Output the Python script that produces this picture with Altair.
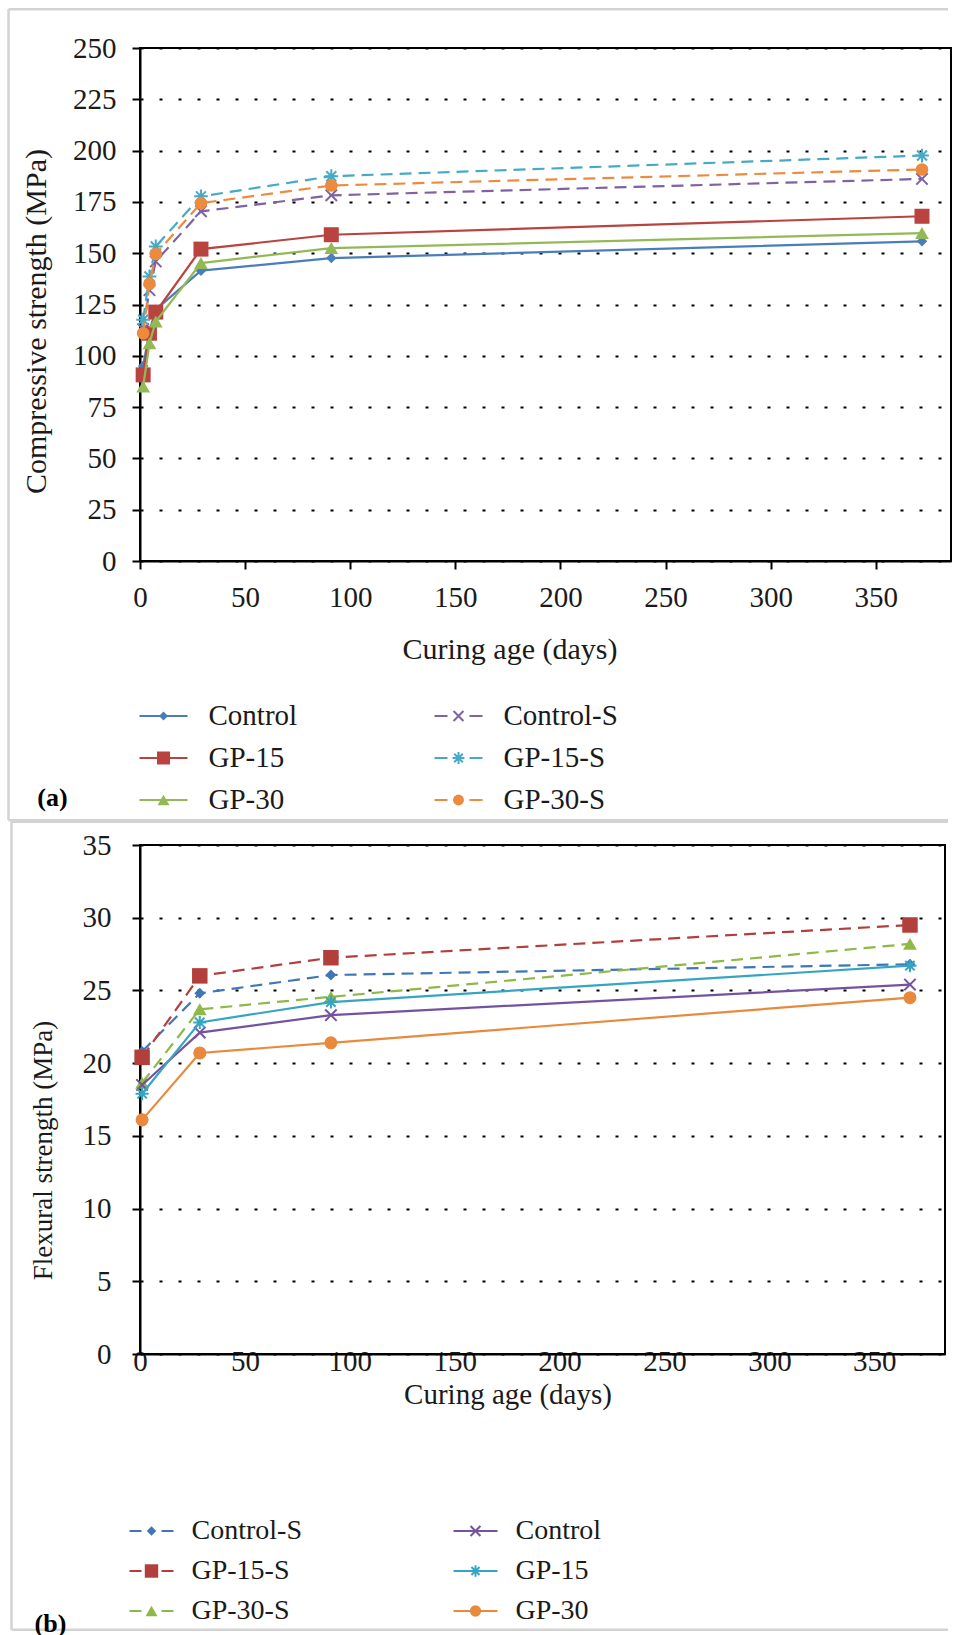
import altair as alt
import pandas as pd

FONT = "Liberation Serif"
TXT = "#1a1a1a"
X_PATH = "M-1,-1L1,1M-1,1L1,-1"
AST_PATH = "M-1,0L1,0M0,-1L0,1M-0.72,-0.72L0.72,0.72M-0.72,0.72L0.72,-0.72"

# ---------------- Panel (a): compressive strength ----------------
a_days = [1.5, 4.5, 7.5, 29, 91, 372]
a_names = ["Control", "GP-15", "GP-30", "Control-S", "GP-15-S", "GP-30-S"]
a_control = [95, 112, 122.5, 141.5, 147.6, 155.8]
a_gp15 = [90.7, 111, 121.3, 152, 159, 168]
a_gp30 = [85, 106.1, 116.7, 145.2, 152.5, 159.8]
a_control_s = [113, 132, 146, 170.4, 178.2, 186.2]
a_gp15_s = [117.6, 138.7, 153.3, 177.7, 187.5, 197.6]
a_gp30_s = [111, 135.1, 149.6, 174.4, 183, 190.8]
a_values = [a_control, a_gp15, a_gp30, a_control_s, a_gp15_s, a_gp30_s]
a_colors = ["#4A7EBB", "#B8433F", "#93B957", "#7E62A3", "#46AAC6", "#EC8B3E"]
a_shapes = ["diamond", "square", "triangle-up", X_PATH, AST_PATH, "circle"]
a_filled = [True, True, True, False, False, True]
a_sizes = [110, 225, 190, 130, 190, 160]
a_dashed = [False, False, False, True, True, True]
a_yticks = list(range(0, 251, 25))
a_xticks = list(range(0, 351, 50))

# ---------------- Panel (b): flexural strength ----------------
b_days = [1, 28.5, 91, 367]
b_names = ["Control-S", "GP-15-S", "GP-30-S", "Control", "GP-15", "GP-30"]
b_control_s = [20.8, 24.8, 26.06, 26.8]
b_gp15_s = [20.4, 26.0, 27.25, 29.5]
b_gp30_s = [18.65, 23.7, 24.56, 28.2]
b_control = [18.5, 22.1, 23.3, 25.4]
b_gp15 = [17.9, 22.8, 24.2, 26.7]
b_gp30 = [16.1, 20.7, 21.4, 24.5]
b_values = [b_control_s, b_gp15_s, b_gp30_s, b_control, b_gp15, b_gp30]
b_colors = ["#3F76B6", "#B23F3C", "#8FB847", "#7452A0", "#35A5C2", "#E8893C"]
b_shapes = ["diamond", "square", "triangle-up", X_PATH, AST_PATH, "circle"]
b_filled = [True, True, True, False, False, True]
b_sizes = [120, 240, 190, 130, 170, 170]
b_dashed = [True, True, True, False, False, False]
b_yticks = list(range(0, 36, 5))
b_xticks = list(range(0, 351, 50))


def one_row(**kw):
    return alt.Chart(pd.DataFrame({k: [v] for k, v in kw.items()}))


def panel(days, names, values, colors, shapes, filled, sizes, dashed,
          width, height, xmax, ymax, yticks, xticks, ytitle, geo):
    layers = []
    # outer light frame (left, top, bottom edges; right edge lies off-page)
    fl, fr, ft, fb = geo["frame"]
    fkw = dict(color="#d3d3d3", strokeWidth=2.5)
    layers.append(one_row(k=0).mark_rule(**fkw).encode(
        x=alt.value(fl), x2=alt.value(fr), y=alt.value(ft)))
    layers.append(one_row(k=0).mark_rule(**fkw).encode(
        x=alt.value(fl), x2=alt.value(fr), y=alt.value(fb)))
    layers.append(one_row(k=0).mark_rule(**fkw).encode(
        x=alt.value(fl), y=alt.value(ft), y2=alt.value(fb)))

    xaxis_kw = dict(values=xticks, grid=False, title="Curing age (days)",
                    labelFont=FONT, labelFontSize=geo["fs"], labelColor=TXT,
                    labelPadding=geo["xlabpad"], labelFlush=False,
                    titleFont=FONT, titleFontSize=geo["tfs"], titleColor=TXT,
                    titleFontWeight="normal", titleX=geo["xtitle"][0],
                    titleY=geo["xtitle"][1], titleAlign="center",
                    titleBaseline="alphabetic",
                    domainColor="black", domainWidth=2)
    if geo["xticks"]:
        xaxis_kw.update(ticks=True, tickColor="black", tickWidth=2, tickSize=8)
    else:
        xaxis_kw.update(ticks=False, tickSize=0, labelBaseline="middle")
    x = alt.X("day:Q",
              scale=alt.Scale(domain=[0, xmax], nice=False, zero=False),
              axis=alt.Axis(**xaxis_kw))
    y = alt.Y("v:Q",
              scale=alt.Scale(domain=[0, ymax], nice=False, zero=True),
              axis=alt.Axis(values=yticks, grid=True, gridColor="black", gridWidth=2,
                            gridDash=[3, 16], title=ytitle,
                            labelFont=FONT, labelFontSize=geo["fs"], labelColor=TXT,
                            labelPadding=geo["ylabpad"], labelFlush=False,
                            titleFont=FONT, titleFontSize=geo["ytfs"], titleColor=TXT,
                            titleFontWeight="normal", titleAngle=270,
                            titleX=geo["ytitle"][0], titleY=geo["ytitle"][1],
                            titleAlign="center", titleBaseline="middle",
                            domainColor="black", domainWidth=2, tickColor="black",
                            tickWidth=2, tickSize=8))
    for i, name in enumerate(names):
        df = pd.DataFrame({"day": days, "v": values[i], "series": name})
        line_kw = dict(color=colors[i], strokeWidth=2.2)
        if dashed[i]:
            line_kw["strokeDash"] = [12, 7]
        layers.append(alt.Chart(df).mark_line(**line_kw).encode(x=x, y=y))
        layers.append(alt.Chart(df).mark_point(
            shape=shapes[i], filled=filled[i], size=sizes[i], color=colors[i],
            opacity=1, strokeWidth=2).encode(x=x, y=y))

    # legend (two columns x three rows)
    lg = geo["legend"]
    for i, name in enumerate(names):
        col, row = i // 3, i % 3
        x0 = lg["x0"][col]
        ly = lg["rows"][row]
        rule_kw = dict(color=colors[i], strokeWidth=2)
        if dashed[i]:
            rule_kw["strokeDash"] = lg["dash"]
        layers.append(one_row(k=0).mark_rule(**rule_kw).encode(
            x=alt.value(x0), x2=alt.value(x0 + lg["len"]), y=alt.value(ly)))
        layers.append(one_row(k=0).mark_point(
            shape=shapes[i], filled=filled[i], size=sizes[i] * 0.75, color=colors[i],
            opacity=1, strokeWidth=2).encode(
            x=alt.value(x0 + lg["len"] / 2), y=alt.value(ly)))
        layers.append(one_row(name=name).mark_text(
            font=FONT, fontSize=lg["fs"], color=TXT, align="left", baseline="middle").encode(
            x=alt.value(x0 + lg["textdx"]), y=alt.value(ly), text="name:N"))

    layers.append(one_row(lab=geo["label"][2]).mark_text(
        font=FONT, fontSize=26, fontWeight="bold", color="black", align="center",
        baseline="middle").encode(
        x=alt.value(geo["label"][0]), y=alt.value(geo["label"][1]), text="lab:N"))

    return alt.layer(*layers).properties(width=width, height=height)


geo_a = dict(
    frame=[-131.5, 808, -38.7, 772.3],
    fs=29, tfs=30, ytfs=30, xlabpad=14, ylabpad=16, xticks=True,
    xtitle=[369.5, 97.5], ytitle=[-104, 273],
    legend=dict(x0=[-0.5, 294.5], rows=[668, 710, 752], len=48, textdx=69, fs=29,
                dash=[13, 22]),
    label=[-87.5, 750, "(a)"],
)
geo_b = dict(
    frame=[-128.5, 808, -23.3, 784.7],
    fs=29, tfs=29, ytfs=27, xlabpad=7, ylabpad=21, xticks=False,
    xtitle=[367.5, 49], ytitle=[-96.8, 305],
    legend=dict(x0=[-10.5, 313.5], rows=[686, 726, 766], len=44, textdx=62, fs=28,
                dash=[12, 20]),
    label=[-89.5, 779, "(b)"],
)

top = panel(a_days, a_names, a_values, a_colors, a_shapes, a_filled, a_sizes, a_dashed,
            811, 513, 385.8, 250, a_yticks, a_xticks, "Compressive strength (MPa)", geo_a)
bottom = panel(b_days, b_names, b_values, b_colors, b_shapes, b_filled, b_sizes, b_dashed,
               805, 509, 383.7, 35, b_yticks, b_xticks, "Flexural strength (MPa)", geo_b)

chart = alt.concat(top, bottom, columns=1, spacing=-4, align="none", bounds="full").properties(
    padding={"left": 6, "top": 7, "right": 0, "bottom": 0},
    background="white",
).configure_view(stroke="black", strokeWidth=2)

chart.save("out.html", embed_options={"renderer": "svg", "actions": False})
